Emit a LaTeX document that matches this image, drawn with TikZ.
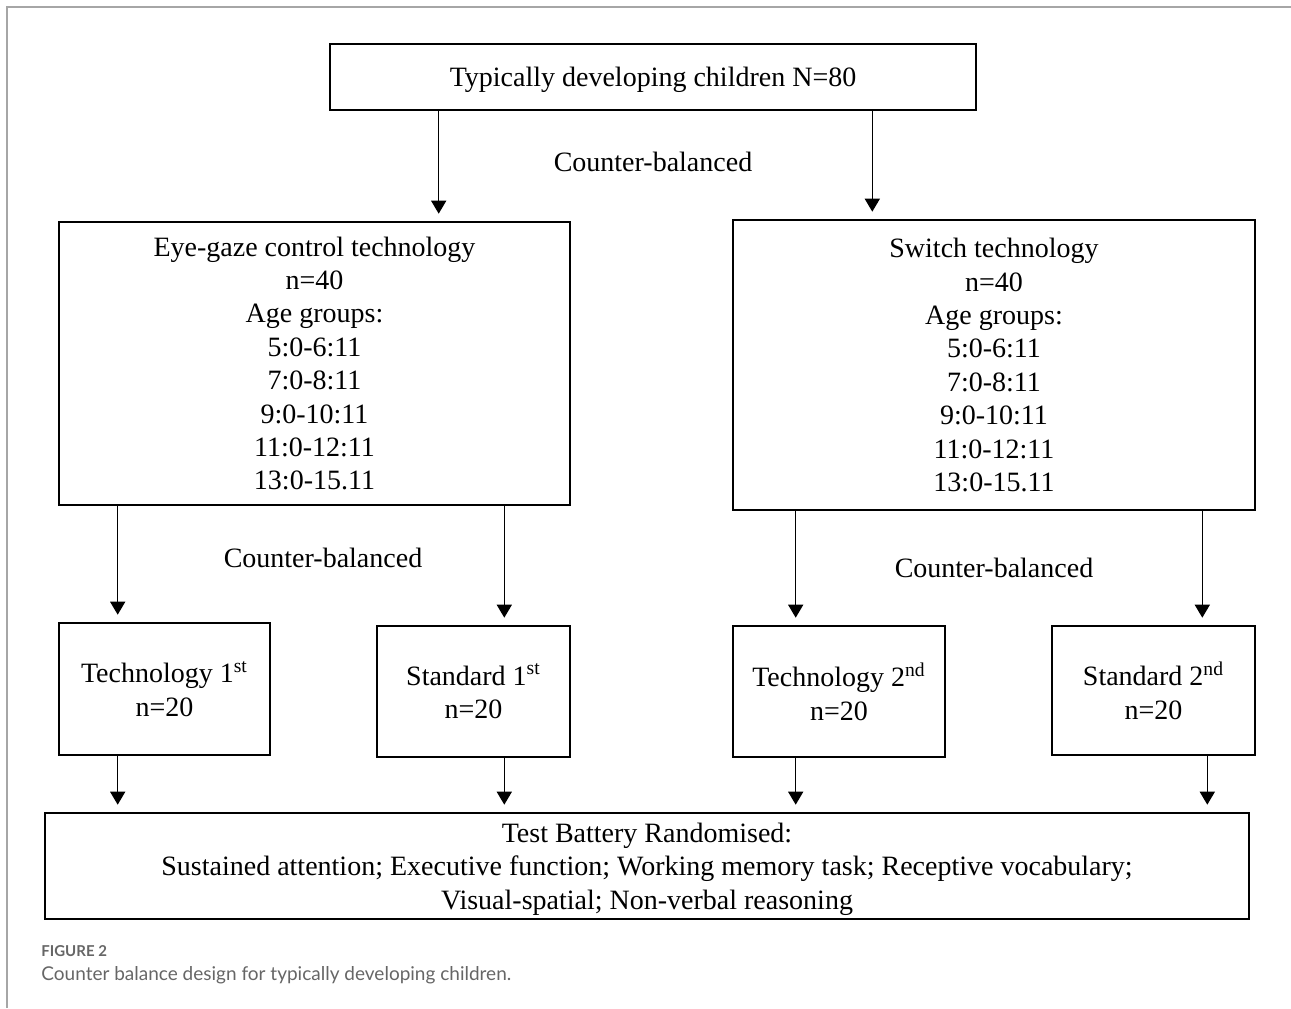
\documentclass[tikz,border=0pt]{standalone}
\usepackage{fontspec}
\setmainfont{Liberation Serif}
\newfontfamily\capfont{Lato}
\usetikzlibrary{arrows.meta}

\begin{document}
\begin{tikzpicture}[
    x=0.5pt, y=-0.5pt,
    box/.style={draw=black, line width=1.3pt, align=center, inner sep=0pt,
        font=\fontsize{14}{16.7}\selectfont},
    arrow/.style={-{Triangle[length=6.5pt, width=7.5pt]}, line width=0.75pt, black, shorten >=3.5pt},
    cbtext/.style={font=\fontsize{14}{16.7}\selectfont},
    captext/.style={anchor=west, inner sep=0pt, text=black!60}
]
\useasboundingbox (0,0) rectangle (1291,1008);

% Frame of the figure panel
\draw[black!35, line width=1pt] (7,1008) -- (7,7) -- (1291,7);

% Top box
\node[box, text depth=0pt, minimum width=323pt, minimum height=33pt] (top) at (653,77)
    {Typically developing children N=80};

% Technology groups
\node[box, minimum width=255.5pt, minimum height=141.5pt] (eyegaze) at (314.5,363.5)
    {Eye-gaze control technology\\ n=40\\ Age groups:\\ 5:0-6:11\\ 7:0-8:11\\ 9:0-10:11\\ 11:0-12:11\\ 13:0-15.11};
\node[box, minimum width=261pt, minimum height=145pt] (switch) at (994,365)
    {Switch technology\\ n=40\\ Age groups:\\ 5:0-6:11\\ 7:0-8:11\\ 9:0-10:11\\ 11:0-12:11\\ 13:0-15.11};

% Order groups
\node[box, minimum width=105.5pt, minimum height=66pt] (techone) at (164.5,689)
    {Technology 1\textsuperscript{st}\\ n=20};
\node[box, minimum width=96.5pt, minimum height=65.5pt] (stdone) at (473.5,691.5)
    {Standard 1\textsuperscript{st}\\ n=20};
\node[box, minimum width=106pt, minimum height=65.5pt] (techtwo) at (839,691.5)
    {Technology 2\textsuperscript{nd}\\ n=20};
\node[box, minimum width=101.5pt, minimum height=64.5pt] (stdtwo) at (1153.5,690.5)
    {Standard 2\textsuperscript{nd}\\ n=20};

% Test battery
\node[box, text depth=-1pt, minimum width=602pt, minimum height=53pt] (battery) at (647,866)
    {Test Battery Randomised:\\ Sustained attention; Executive function; Working memory task; Receptive vocabulary;\\ Visual-spatial; Non-verbal reasoning};

% Counter-balanced labels
\node[cbtext] (cbtop) at (653,162) {Counter-balanced};
\node[cbtext] (cbleft) at (323,558) {Counter-balanced};
\node[cbtext] (cbright) at (994,568) {Counter-balanced};

% Arrows from the top box
\draw[arrow] ([xshift=55pt]top.south west) -- ([xshift=55pt]top.south west |- eyegaze.north);
\draw[arrow] ([xshift=-52.5pt]top.south east) -- ([xshift=-52.5pt]top.south east |- switch.north);

% Arrows to the order groups
\draw[arrow] ([xshift=30pt]eyegaze.south west) -- ([xshift=30pt]eyegaze.south west |- techone.north);
\draw[arrow] ([xshift=-33.5pt]eyegaze.south east) -- ([xshift=-33.5pt]eyegaze.south east |- stdone.north);
\draw[arrow] ([xshift=32pt]switch.south west) -- ([xshift=32pt]switch.south west |- techtwo.north);
\draw[arrow] ([xshift=-27pt]switch.south east) -- ([xshift=-27pt]switch.south east |- stdtwo.north);

% Arrows to the test battery
\draw[arrow] ([xshift=30pt]techone.south west) -- ([xshift=30pt]techone.south west |- battery.north);
\draw[arrow] ([xshift=-33.5pt]stdone.south east) -- ([xshift=-33.5pt]stdone.south east |- battery.north);
\draw[arrow] ([xshift=32pt]techtwo.south west) -- ([xshift=32pt]techtwo.south west |- battery.north);
\draw[arrow] ([xshift=-24.5pt]stdtwo.south east) -- ([xshift=-24.5pt]stdtwo.south east |- battery.north);

% Caption
\node[captext, font=\capfont\fontsize{7.5}{9}\selectfont\bfseries] (figlabel) at (41,951) {FIGURE 2};
\node[captext, font=\capfont\fontsize{9.5}{11}\selectfont] (caption) at (41,975)
    {Counter balance design for typically developing children.};

\end{tikzpicture}
\end{document}
